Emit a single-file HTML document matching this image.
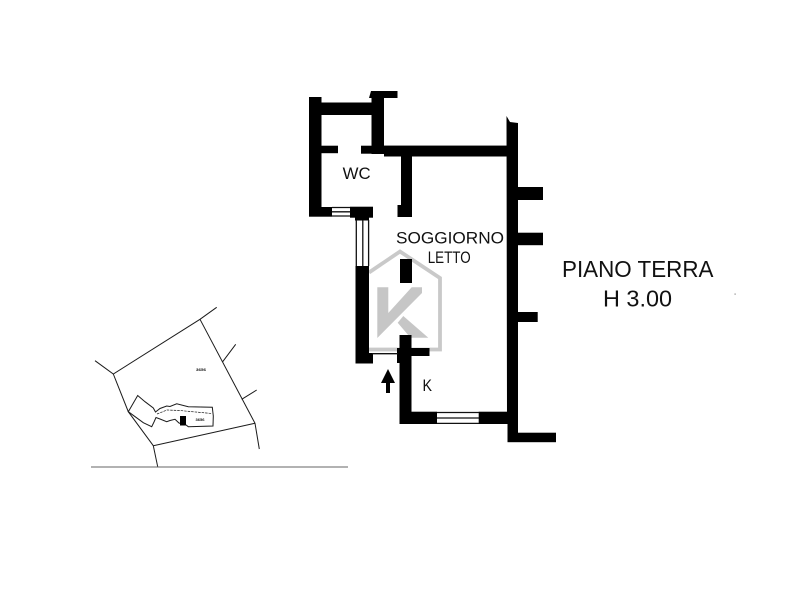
<!DOCTYPE html>
<html><head><meta charset="utf-8"><style>
html,body{margin:0;padding:0;background:#fff}
svg{display:block}
text{font-family:"Liberation Sans",sans-serif;fill:#111}
</style></head><body>
<svg width="800" height="600" viewBox="0 0 800 600" xmlns="http://www.w3.org/2000/svg">
<defs><filter id="b" x="-5%" y="-5%" width="110%" height="110%"><feGaussianBlur stdDeviation="0.35"/></filter></defs>
<rect width="800" height="600" fill="#fff"/>
<!-- logo -->
<path d="M369 272.5L400 251.5L440 278V349.5H369" fill="none" stroke="#c9c9c9" stroke-width="3.8"/>
<path fill="#c6c6c6" d="M377.3 287.3H388.3V313L411.7 287.3H422V293L377.3 338Z"/>
<path fill="#c6c6c6" d="M403.3 316L428.3 337.7H410.5L397.7 322.7Z"/>
<!-- walls -->
<g fill="#000">
<rect x="309" y="97" width="12.5" height="119.5"/>
<rect x="309" y="102.5" width="64" height="12.5"/>
<rect x="371.5" y="92" width="12.5" height="62"/>
<path d="M369 98L371 91H397.5V98Z"/>
<rect x="321" y="145.7" width="17" height="7.5"/>
<rect x="361" y="145.7" width="146" height="8"/>
<rect x="384" y="145.7" width="123" height="10.8"/>
<rect x="401" y="153" width="11" height="55"/>
<rect x="397.5" y="205" width="14.5" height="12"/>
<rect x="309" y="207" width="23" height="9.7"/>
<rect x="350" y="206.7" width="23" height="11"/>
<rect x="355" y="217" width="14" height="3.5"/>
<rect x="355.5" y="266" width="13.5" height="97.5"/>
<rect x="355.5" y="353" width="17.5" height="10.5"/>
<rect x="400" y="259" width="12" height="24"/>
<rect x="399.5" y="335" width="12" height="89"/>
<rect x="397" y="348" width="32.5" height="8"/>
<rect x="397" y="348" width="3.5" height="15"/>
<rect x="370" y="353" width="3" height="10.5"/>
<rect x="399.5" y="411.7" width="37.5" height="12.3"/>
<rect x="478.7" y="411.7" width="30" height="12.3"/>
<path d="M506.5 116L510 122L518 123V442H507.5V420H507Z"/>
<rect x="507.5" y="432.7" width="48.5" height="9.5"/>
<rect x="517" y="187" width="26" height="13"/>
<rect x="517" y="232.7" width="26" height="12.5"/>
<rect x="517" y="312" width="20.7" height="10"/>
<!-- arrow -->
<path d="M388 369L395 383H390V393H386V383H381Z"/>
</g>
<!-- windows -->
<g fill="none" stroke="#111" stroke-width="1.3">
<path d="M332 207.5H350M332 211.8H350M332 216H350"/>
<path d="M356.3 220V266M362.8 220V266M368.6 220V266"/>
<path d="M437 412.5H479M437 418H479M437 423.4H479"/>
<path d="M372 353.7H398"/>
</g>
<!-- labels -->
<text x="342.7" y="179" font-size="16.5" textLength="28" lengthAdjust="spacingAndGlyphs">WC</text>
<text x="396" y="243.3" font-size="16.5" textLength="108" lengthAdjust="spacingAndGlyphs">SOGGIORNO</text>
<text x="427.7" y="263" font-size="16.5" textLength="43" lengthAdjust="spacingAndGlyphs">LETTO</text>
<text x="422.5" y="391" font-size="17" textLength="9.5" lengthAdjust="spacingAndGlyphs">K</text>
<text x="562" y="277" font-size="23.5" textLength="151.5" lengthAdjust="spacingAndGlyphs">PIANO TERRA</text>
<text x="603" y="306.5" font-size="23.5" textLength="69" lengthAdjust="spacingAndGlyphs">H 3.00</text>
<!-- site plan -->
<g filter="url(#b)">
<g fill="none" stroke="#1a1a1a" stroke-width="1">
<path d="M216.7 307.3L200 319.3L113.3 374L95 360.7"/>
<path d="M200 319.3L255 423.3L259.3 449"/>
<path d="M255 423.3L153.3 445.7L157.7 466.7"/>
<path d="M113.3 374L128.3 411.7L153.3 445.7"/>
<path d="M222.7 361.7L235.7 344.3M241.7 399.3L256.7 390"/>
<path d="M128.3 411.7L137.7 395.5L145 401.7L153.3 408L155.5 412L160 408.5L166.7 406L170 406.5L176.7 403.8L188.3 406.7L212.3 407.3L213.3 416L213 426L188.3 426.7L186 425L179 423L175 419.3L170 420.5L166.7 421.7L160 419L156 417.5L154 422L151.7 426.7L143.3 422.7Z"/>
<path d="M157 414L167 410L180 410.5L190 411.5L212 413.5" stroke-width="0.7" stroke-dasharray="2.5 1"/>
<path d="M91 467H348" stroke="#666"/>
</g>
<rect x="180" y="416" width="6" height="9.5" fill="#000"/>
<text x="196" y="371" font-size="4" font-weight="bold" textLength="10" lengthAdjust="spacingAndGlyphs">3656</text>
<text x="195.5" y="421" font-size="4" font-weight="bold" textLength="9" lengthAdjust="spacingAndGlyphs">3656</text>
</g>
<rect x="734.5" y="293.5" width="1.2" height="1.2" fill="#888"/>
</svg>
</body></html>
